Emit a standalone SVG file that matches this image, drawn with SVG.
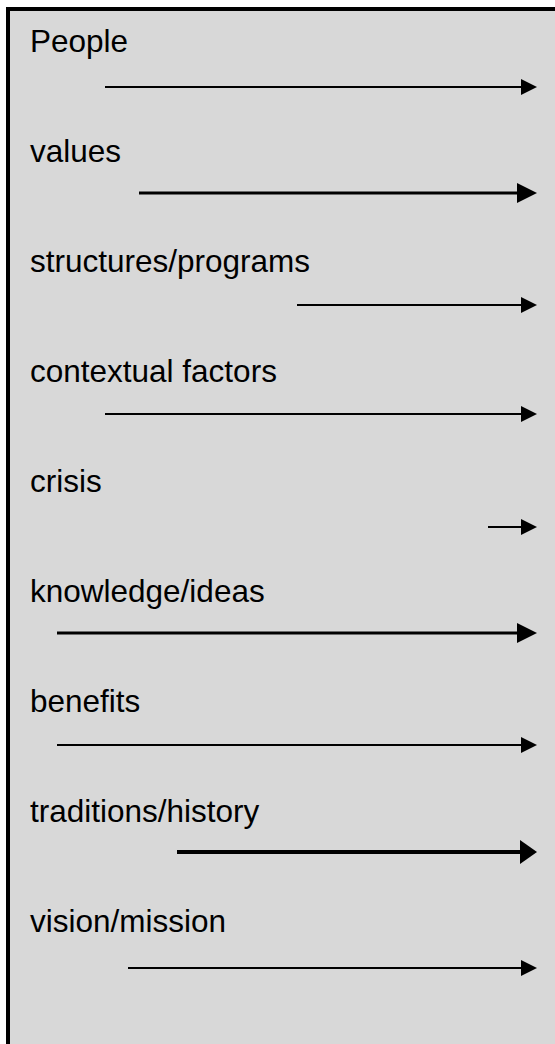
<svg xmlns="http://www.w3.org/2000/svg" width="555" height="1044" viewBox="0 0 555 1044">
  <style>
    .label { font-family: "Liberation Sans", Arial, sans-serif; font-size: 31.5px; fill: #000; }
    .thin { stroke: #000; stroke-width: 2; fill: none; marker-end: url(#head-thin); }
    .thick { stroke: #000; stroke-width: 3; fill: none; marker-end: url(#head-thick); }
    .heavy { stroke: #000; stroke-width: 4; fill: none; marker-end: url(#head-heavy); }
  </style>
  <defs>
    <marker id="head-thin" markerUnits="userSpaceOnUse" markerWidth="17" markerHeight="17" refX="8" refY="8" orient="auto">
      <path d="M0,0 L16,8 L0,16 Z" fill="#000"/>
    </marker>
    <marker id="head-thick" markerUnits="userSpaceOnUse" markerWidth="21" markerHeight="21" refX="10" refY="10" orient="auto">
      <path d="M0,0 L20,10 L0,20 Z" fill="#000"/>
    </marker>
    <marker id="head-heavy" markerUnits="userSpaceOnUse" markerWidth="25" markerHeight="25" refX="10" refY="12" orient="auto">
      <path d="M0,0 L17,12 L0,24 Z" fill="#000"/>
    </marker>
  </defs>

  <rect x="0" y="0" width="555" height="1044" fill="#fff"/>
  <!-- panel: open at right and bottom edges -->
  <rect id="panel" x="8" y="9" width="560" height="1050" fill="#d8d8d8" stroke="#000" stroke-width="4"/>

  <g id="node-people"><text class="label" x="30" y="52">People</text></g>
  <g id="node-values"><text class="label" x="30" y="162">values</text></g>
  <g id="node-structures"><text class="label" x="30" y="272">structures/programs</text></g>
  <g id="node-contextual"><text class="label" x="30" y="382">contextual factors</text></g>
  <g id="node-crisis"><text class="label" x="30" y="492">crisis</text></g>
  <g id="node-knowledge"><text class="label" x="30" y="602">knowledge/ideas</text></g>
  <g id="node-benefits"><text class="label" x="30" y="712">benefits</text></g>
  <g id="node-traditions"><text class="label" x="30" y="822">traditions/history</text></g>
  <g id="node-vision"><text class="label" x="30" y="932">vision/mission</text></g>

  <g id="connectors">
    <line class="thin" x1="105" y1="87" x2="529" y2="87"/>
    <line class="thick" x1="139" y1="193" x2="527" y2="193"/>
    <line class="thin" x1="297" y1="305" x2="529" y2="305"/>
    <line class="thin" x1="105" y1="414" x2="529" y2="414"/>
    <line class="thin" x1="488" y1="527" x2="529" y2="527"/>
    <line class="thick" x1="57" y1="633" x2="527" y2="633"/>
    <line class="thin" x1="57" y1="745" x2="529" y2="745"/>
    <line class="heavy" x1="177" y1="852" x2="530" y2="852"/>
    <line class="thin" x1="128" y1="968" x2="529" y2="968"/>
  </g>
</svg>
